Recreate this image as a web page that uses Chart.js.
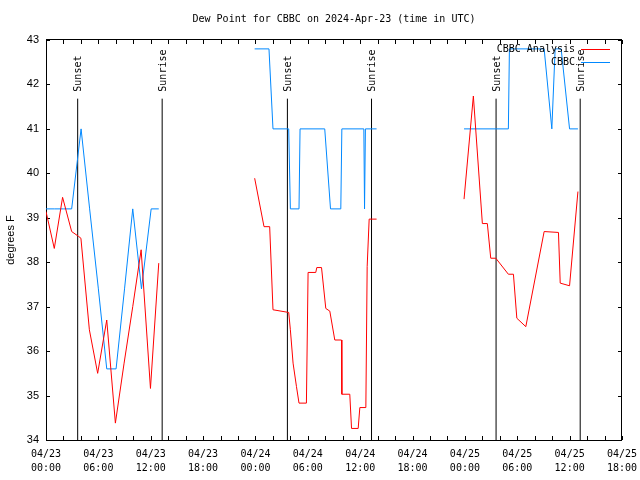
<!DOCTYPE html>
<html>
<head>
<meta charset="utf-8">
<title>Dew Point for CBBC</title>
<script src="https://cdn.jsdelivr.net/npm/chart.js@4.4.1/dist/chart.umd.min.js"></script>
<style>
  html, body { margin: 0; padding: 0; background: #fff; }
</style>
</head>
<body>
<canvas id="dew" width="640" height="480"></canvas>
<script>
// hours after 2024-04-23 00:00 UTC ; null = no data
const analysisHours = [0, 0.95, 1.9, 2.94, 3.74, 4.0, 4.97, 5.92, 6.96, 7.95, 8.95, 9.94, 10.9, 11.97, 12.92,
  18,
  23.91, 24.98, 25.63, 26.01, 27.81, 28.0, 28.31, 28.7, 28.99, 29.84, 30.03, 30.91, 31.03, 31.57, 32.06, 32.52,
  33.09, 33.86, 33.9, 34.81, 35.01, 35.77, 35.96, 36.65, 36.8, 37.03, 37.88,
  42,
  47.9, 48.97, 50.0, 50.57, 50.96, 51.54, 52.98, 53.56, 53.95, 54.98, 57.08, 58.72, 58.92, 59.99, 60.95];
const analysisDew = [39.14, 38.31, 39.46, 38.69, 38.58, 38.54, 36.48, 35.5, 36.7, 34.38, 35.73, 37.0, 38.28, 35.16, 37.98,
  null,
  39.89, 38.8, 38.8, 36.93, 36.87, 36.48, 35.73, 35.2, 34.83, 34.83, 37.77, 37.77, 37.88, 37.88, 36.96, 36.9,
  36.25, 36.25, 35.03, 35.03, 34.26, 34.26, 34.73, 34.73, 37.9, 38.97, 38.97,
  null,
  39.42, 41.74, 38.87, 38.87, 38.09, 38.09, 37.73, 37.73, 36.74, 36.55, 38.69, 38.67, 37.53, 37.47, 39.59];

const obsHours = [0, 1, 2, 2.94, 4.02, 5, 6, 6.96, 8.03, 9, 9.94, 10.94, 12.05, 12.92,
  18,
  23.91, 25.55, 26.01, 27.81, 28.0, 28.99, 29.11, 31.94, 32.6, 33.78, 33.9, 36.42, 36.5, 36.6, 37.88,
  42,
  47.9, 52.98, 53.1, 57.08, 57.96, 58.34, 59.03, 59.99, 60.95];
const obsDew = [39.2, 39.2, 39.2, 39.2, 41.0, 39.2, 37.4, 35.6, 35.6, 37.4, 39.2, 37.4, 39.2, 39.2,
  null,
  42.8, 42.8, 41.0, 41.0, 39.2, 39.2, 41.0, 41.0, 39.2, 39.2, 41.0, 41.0, 39.2, 41.0, 41.0,
  null,
  41.0, 41.0, 42.8, 42.8, 41.0, 42.8, 42.8, 41.0, 41.0];

const sunHours = [3.63, 13.31, 27.66, 37.3, 51.57, 61.21];
const sunNames = ['Sunset', 'Sunrise', 'Sunset', 'Sunrise', 'Sunset', 'Sunrise'];
const sunTop = 41.68;

const dayLabels = ['04/23', '04/24', '04/25'];
const timeLabels = ['00:00', '06:00', '12:00', '18:00'];

const MONO = '"DejaVu Sans Mono", monospace';
const SANS = '"Liberation Sans", Arial, sans-serif';

function toPoints(hs, vs) {
  return hs.map((h, i) => ({ x: h, y: vs[i] }));
}

const sunPoints = [];
sunHours.forEach(h => {
  sunPoints.push({ x: h, y: 34 }, { x: h, y: sunTop }, { x: h, y: null });
});

// frame with inward ticks like gnuplot
const framePlugin = {
  id: 'frame',
  beforeDatasetsDraw(chart) {
    const { ctx, chartArea: a, scales: { x, y } } = chart;
    ctx.save();
    ctx.strokeStyle = '#000';
    ctx.lineWidth = 1;
    ctx.beginPath();
    for (let h = 0; h <= 66; h += 2) {
      const px = Math.round(x.getPixelForValue(h)) + 0.5;
      ctx.moveTo(px, a.bottom); ctx.lineTo(px, a.bottom - 4);
      ctx.moveTo(px, a.top); ctx.lineTo(px, a.top + 4);
    }
    for (let v = 34; v <= 43; v++) {
      const py = Math.round(y.getPixelForValue(v)) + 0.5;
      ctx.moveTo(a.left, py); ctx.lineTo(a.left + 4, py);
      ctx.moveTo(a.right, py); ctx.lineTo(a.right - 4, py);
    }
    ctx.stroke();
    ctx.strokeRect(Math.round(a.left) + 0.5, Math.round(a.top) - 0.5,
      Math.round(a.right - a.left) - 1, Math.round(a.bottom - a.top) + 1);
    ctx.restore();
  },
  afterDatasetsDraw(chart) {
    const { ctx, scales: { x, y } } = chart;
    ctx.save();
    ctx.fillStyle = '#000';
    ctx.font = '10px ' + MONO;
    // sunset / sunrise labels
    sunHours.forEach((h, i) => {
      const px = x.getPixelForValue(h) + 1;
      const py = y.getPixelForValue(sunTop) - 7;
      ctx.save();
      ctx.translate(px, py);
      ctx.rotate(-Math.PI / 2);
      ctx.textAlign = 'left';
      ctx.textBaseline = 'middle';
      ctx.fillText(sunNames[i], 0, 0);
      ctx.restore();
    });
    // key
    const key = [['CBBC Analysis', '#ff0000'], ['CBBC', '#0088ff']];
    key.forEach((k, i) => {
      const ky = 49 + i * 13;
      ctx.textAlign = 'right';
      ctx.textBaseline = 'middle';
      ctx.fillStyle = '#000';
      ctx.fillText(k[0], 575, ky);
      ctx.strokeStyle = k[1];
      ctx.lineWidth = 1;
      ctx.beginPath();
      ctx.moveTo(581, ky + 0.5);
      ctx.lineTo(610, ky + 0.5);
      ctx.stroke();
    });
    ctx.restore();
  }
};

new Chart(document.getElementById('dew'), {
  type: 'line',
  data: {
    datasets: [
      {
        label: 'CBBC Analysis',
        data: toPoints(analysisHours, analysisDew),
        borderColor: '#ff0000',
        borderWidth: 1,
        pointRadius: 0,
        spanGaps: false
      },
      {
        label: 'CBBC',
        data: toPoints(obsHours, obsDew),
        borderColor: '#0088ff',
        borderWidth: 1,
        pointRadius: 0,
        spanGaps: false
      },
      {
        label: 'sun',
        data: sunPoints,
        borderColor: '#000000',
        borderWidth: 1,
        pointRadius: 0,
        spanGaps: false
      }
    ]
  },
  options: {
    responsive: false,
    animation: false,
    devicePixelRatio: 1,
    layout: { padding: { left: 0, right: 18, top: 0, bottom: 0 } },
    plugins: {
      legend: { display: false },
      tooltip: { enabled: false },
      title: {
        display: true,
        fullSize: false,
        text: 'Dew Point for CBBC on 2024-Apr-23 (time in UTC)',
        color: '#000',
        font: { family: MONO, size: 10, weight: 'normal', lineHeight: 1.2 },
        padding: { top: 13, bottom: 15 }
      }
    },
    scales: {
      x: {
        type: 'linear',
        min: 0,
        max: 66,
        grid: { display: false, drawTicks: false },
        border: { display: false },
        afterFit(scale) {
          scale.height = 40;
          scale.paddingLeft = 0;
          scale.paddingRight = 0;
        },
        ticks: {
          stepSize: 2,
          autoSkip: false,
          maxRotation: 0,
          padding: 7,
          color: '#000',
          font: { family: MONO, size: 10, lineHeight: 1.4 },
          callback(v) {
            if (v % 6 !== 0) return '';
            return [dayLabels[Math.floor(v / 24)], timeLabels[(v % 24) / 6]];
          }
        }
      },
      y: {
        min: 34,
        max: 43,
        grid: { display: false, drawTicks: false },
        border: { display: false },
        afterFit(scale) {
          scale.width = 46;
          scale.paddingTop = 0;
          scale.paddingBottom = 0;
        },
        title: {
          display: true,
          text: 'degrees F',
          color: '#000',
          font: { family: SANS, size: 11 },
          padding: { top: 4, bottom: 0 }
        },
        ticks: {
          stepSize: 1,
          padding: 7,
          color: '#000',
          font: { family: SANS, size: 11 }
        }
      }
    }
  },
  plugins: [framePlugin]
});
</script>
</body>
</html>
